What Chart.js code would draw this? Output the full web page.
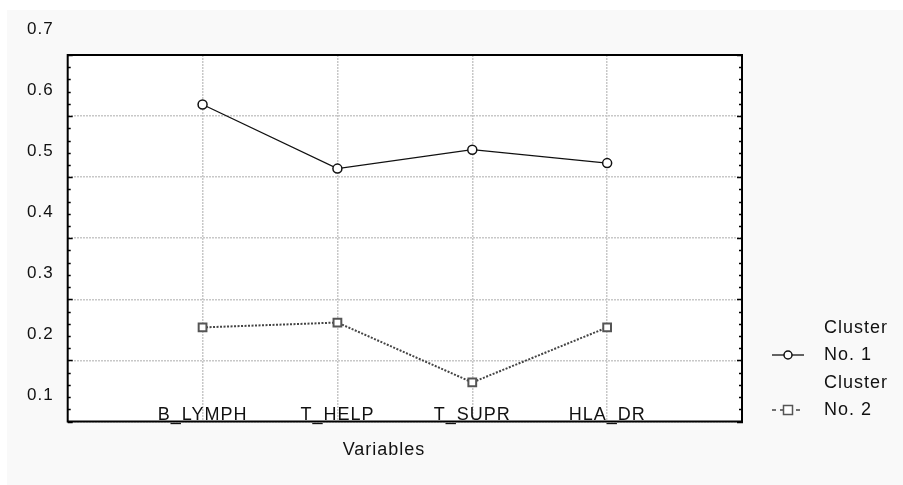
<!DOCTYPE html>
<html>
<head>
<meta charset="utf-8">
<script src="https://cdn.jsdelivr.net/npm/chart.js@4/dist/chart.umd.min.js"></script>
<style>
  body { margin: 0; background: #fff; }
  canvas { display: block; }
</style>
</head>
<body>
<canvas id="chart" width="903" height="485"></canvas>
<script>
const variables = ["B_LYMPH", "T_HELP", "T_SUPR", "HLA_DR"];
const cluster1 = [0.619, 0.514, 0.545, 0.523];
const cluster2 = [0.254, 0.262, 0.164, 0.254];
const yTicks = [0.1, 0.2, 0.3, 0.4, 0.5, 0.6, 0.7];
const seriesNames = [["Cluster", "No. 1"], ["Cluster", "No. 2"]];

const FONT = "'Liberation Sans', Arial, sans-serif";

const pts = (vals) => vals.map((v, i) => ({ x: i + 1, y: v }));

const frame = {
  id: "frame",
  beforeDraw(chart) {
    const ctx = chart.ctx;
    ctx.save();
    ctx.fillStyle = "#ffffff";
    ctx.fillRect(0, 0, chart.width, chart.height);
    ctx.fillStyle = "#f9f9f9";
    ctx.fillRect(7, 10, chart.width - 7, chart.height - 10);
    const a = chart.chartArea;
    ctx.fillStyle = "#ffffff";
    ctx.fillRect(a.left, a.top, a.right - a.left, a.bottom - a.top);
    ctx.restore();
    ctx.letterSpacing = "1px";
  },
  afterDatasetsDraw(chart) {
    const ctx = chart.ctx;
    const a = chart.chartArea;
    const y = chart.scales.y;
    ctx.save();
    ctx.strokeStyle = "#000";
    ctx.lineWidth = 2;
    ctx.strokeRect(a.left, a.top, a.right - a.left, a.bottom - a.top);
    ctx.lineWidth = 1.3;
    for (let v = 0.1; v <= 0.7001; v += 0.02) {
      const py = Math.round(y.getPixelForValue(v)) + 0.5;
      const major = Math.abs(v * 10 - Math.round(v * 10)) < 0.01;
      const len = major ? 5 : 3;
      ctx.beginPath();
      ctx.moveTo(a.left, py);
      ctx.lineTo(a.left + len, py);
      ctx.moveTo(a.right - len, py);
      ctx.lineTo(a.right + 1, py);
      ctx.stroke();
    }
    ctx.restore();
  },
  afterDraw(chart) {
    const ctx = chart.ctx;
    ctx.save();
    ctx.letterSpacing = "1px";
    ctx.fillStyle = "#111";
    ctx.font = "18px " + FONT;
    ctx.textAlign = "center";
    ctx.textBaseline = "middle";
    ctx.fillText("Variables", 384, 450);

    // legend
    ctx.textAlign = "left";
    const rows = [355, 410];
    chart.data.datasets.forEach((ds, i) => {
      const cy = rows[i];
      ctx.fillStyle = "#111";
      ctx.fillText(seriesNames[i][0], 824, cy - 27);
      ctx.fillText(seriesNames[i][1], 824, cy);
      ctx.strokeStyle = ds.borderColor;
      ctx.lineWidth = 1.3;
      ctx.setLineDash(i === 1 ? [4, 4] : []);
      ctx.beginPath();
      ctx.moveTo(772, cy);
      ctx.lineTo(804, cy);
      ctx.stroke();
      ctx.setLineDash([]);
      ctx.fillStyle = "#fff";
      ctx.strokeStyle = ds.pointBorderColor;
      ctx.lineWidth = 1.5;
      if (ds.pointStyle === "rect") {
        ctx.fillRect(783.5, cy - 4.5, 9, 9);
        ctx.strokeRect(783.5, cy - 4.5, 9, 9);
      } else {
        ctx.beginPath();
        ctx.arc(788, cy, 4, 0, Math.PI * 2);
        ctx.fill();
        ctx.stroke();
      }
    });
    ctx.restore();
  }
};

new Chart(document.getElementById("chart"), {
  type: "line",
  data: {
    datasets: [
      {
        label: seriesNames[0].join(" "),
        data: pts(cluster1),
        borderColor: "#111",
        borderWidth: 1.3,
        pointStyle: "circle",
        pointRadius: 4.5,
        pointBackgroundColor: "#fff",
        pointBorderColor: "#111",
        pointBorderWidth: 1.5,
        tension: 0,
      },
      {
        label: seriesNames[1].join(" "),
        data: pts(cluster2),
        borderColor: "#444",
        borderWidth: 2,
        borderDash: [2, 1.5],
        pointStyle: "rect",
        pointRadius: 5.5,
        pointBackgroundColor: "#fff",
        pointBorderColor: "#555",
        pointBorderWidth: 2,
        tension: 0,
      },
    ],
  },
  options: {
    responsive: false,
    animation: false,
    layout: { padding: { left: 0, right: 161, top: 55, bottom: 0 } },
    plugins: {
      legend: { display: false },
      tooltip: { enabled: false },
    },
    scales: {
      x: {
        type: "linear",
        min: 0,
        max: 5,
        afterBuildTicks: (s) => { s.ticks = variables.map((_, i) => ({ value: i + 1 })); },
        afterFit: (s) => { s.height = 485 - 421.5; },
        grid: {
          color: "#c8c8c8",
          lineWidth: 1.5,
          drawTicks: false,
        },
        border: { display: false, dash: [2, 1] },
        ticks: {
          mirror: true,
          padding: -4,
          color: "#111",
          font: { family: FONT, size: 18 },
          maxRotation: 0,
          callback: (v) => variables[v - 1] || "",
        },
      },
      y: {
        min: 0.1,
        max: 0.7,
        afterBuildTicks: (s) => { s.ticks = yTicks.map((v) => ({ value: v })); },
        afterFit: (s) => { s.width = 67.7; },
        grid: { color: "#c8c8c8", lineWidth: 1.5, drawTicks: false },
        border: { display: false, dash: [2, 1] },
        ticks: {
          padding: 14,
          labelOffset: -26,
          color: "#111",
          font: { family: FONT, size: 17 },
          callback: (v) => v.toFixed(1),
        },
      },
    },
  },
  plugins: [frame],
});
</script>
</body>
</html>
